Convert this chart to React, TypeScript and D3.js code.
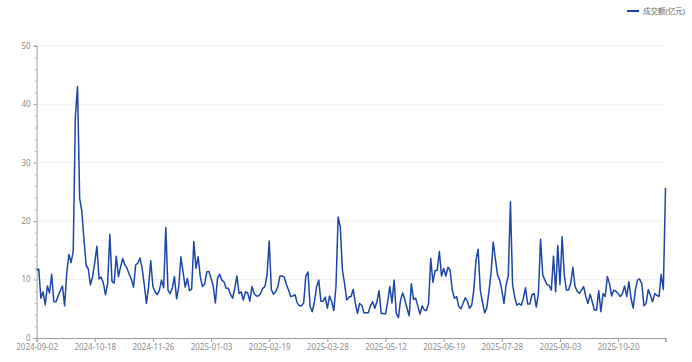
import React, { useEffect, useRef } from 'react';
import * as d3 from 'd3';

// 成交额 (亿元), one value per trading day from 2024-09-02
const turnover: number[] = [
  11.6, 11.8, 6.8, 7.9, 5.7, 8.9, 7.7, 10.9, 6.2, 6.2, 7.2, 8.1, 8.9, 5.5, 11.1, 14.3, 12.9, 14.8, 37.9, 43.0,
  23.9, 21.7, 16.8, 12.4, 11.8, 9.1, 10.5, 12.9, 15.7, 10.1, 10.4, 9.4, 7.4, 9.4, 17.7, 9.7, 9.4, 14.0, 10.5,
  12.2, 13.6, 12.5, 11.9, 10.9, 10.0, 8.7, 12.5, 12.8, 13.7, 11.9, 9.1, 5.9, 8.8, 13.2, 8.8, 7.9, 7.4, 8.2, 9.9,
  8.6, 18.9, 8.2, 7.6, 8.5, 10.5, 6.7, 8.8, 13.9, 11.3, 8.7, 10.2, 8.1, 8.4, 16.5, 11.9, 13.9, 10.5, 8.8, 9.2,
  11.3, 11.4,
  10.2, 8.9, 6.0, 10.2, 10.9, 9.9, 9.6, 8.5, 8.5, 7.5, 6.8, 8.5, 10.6, 7.6, 7.9, 6.5, 7.9, 7.7, 6.3, 8.8,
  7.6, 7.2, 7.2, 7.6, 8.5, 8.8, 10.8, 16.6, 8.3, 7.5, 7.9, 8.8, 10.6, 10.6, 10.4, 9.1, 8.2, 7.1, 7.2, 7.4,
  6.0, 5.5, 5.5, 6.0, 10.6, 11.3, 5.4, 4.5, 6.2, 8.8, 9.9, 6.3, 6.3, 7.0, 5.1, 7.2, 6.2, 4.7, 8.8, 20.7,
  19.0, 11.6, 9.3, 6.5, 7.0, 7.1, 8.3, 5.9, 4.2, 5.9, 5.6, 4.3, 4.3, 4.3, 5.5, 6.2, 5.1, 6.2, 8.1, 4.2,
  4.2, 4.1, 6.2, 8.8,
  6.0, 9.9, 4.2, 3.5, 6.5, 7.7, 6.5, 5.1, 3.8, 9.3, 6.6, 6.8, 5.5, 4.1, 5.5, 4.8, 4.7, 5.9, 13.6, 9.5,
  11.5, 11.6, 14.8, 10.6, 11.9, 10.6, 12.1, 11.6, 8.2, 6.8, 7.1, 5.4, 5.0, 5.9, 6.9, 6.3, 5.1, 5.6, 8.2, 13.3,
  15.2, 8.2, 6.2, 4.3, 5.1, 7.9, 11.1, 16.4, 13.6, 10.8, 9.9, 8.2, 5.9, 9.1, 10.6, 23.3, 9.1, 7.0, 5.6, 5.9,
  5.6, 6.8, 8.6, 5.8, 5.8, 7.4, 7.6, 5.3, 7.6, 16.9, 10.8, 9.9, 9.1, 9.0, 8.2, 14.0, 7.9, 15.8, 9.1, 17.3,
  10.8, 8.2, 8.2, 9.4,
  12.1, 8.8, 8.0, 7.6, 8.2, 8.8, 7.1, 5.9, 7.5, 6.2, 4.8, 4.8, 8.1, 4.5, 7.6, 7.1, 10.5, 9.3, 7.2, 8.2,
  8.0, 7.6, 7.1, 7.6, 8.9, 7.1, 9.6, 6.8, 5.1, 8.2, 9.9, 10.1, 9.3, 5.5, 5.9, 8.3, 7.3, 6.2, 7.6, 7.3,
  7.1, 10.9, 8.3, 25.7,
];

// date labels shown every 27 trading days
const tickLabels: string[] = [
  '2024-09-02', '2024-10-18', '2024-11-26', '2025-01-03', '2025-02-19', '2025-03-28',
  '2025-05-12', '2025-06-19', '2025-07-28', '2025-09-03', '2025-10-20',
];
const labelInterval = 27;

const yTicks: number[] = [0, 10, 20, 30, 40, 50];
const seriesName = '成交额(亿元)';

const W = 692;
const H = 362;
const FONT = "'Noto Sans', 'Noto Sans CJK SC', sans-serif";

const App: React.FC = () => {
  const ref = useRef<SVGSVGElement | null>(null);

  useEffect(() => {
    if (!ref.current) return;
    const svg = d3.select(ref.current);
    svg.selectAll('*').remove();

    const left = 36.6;
    const right = 665.5;
    const top = 45.7;
    const bottom = 338;

    const x = d3.scaleLinear().domain([0, turnover.length - 1]).range([left, right]);
    const y = d3.scaleLinear().domain([0, 50]).range([bottom, top]);

    // grid lines
    svg.append('g')
      .selectAll('line')
      .data(yTicks.filter(d => d > 0))
      .enter()
      .append('line')
      .attr('x1', left)
      .attr('x2', right)
      .attr('y1', d => y(d))
      .attr('y2', d => y(d))
      .attr('stroke', '#eef0f6')
      .attr('stroke-width', 1);

    // y axis
    const yAxis = svg.append('g')
      .attr('transform', `translate(${left},0)`)
      .call(d3.axisLeft(y).tickValues(yTicks).tickSize(3).tickPadding(3));
    yAxis.select('.domain').attr('stroke', '#9a9a9a');
    yAxis.selectAll('line').attr('stroke', '#9a9a9a');
    yAxis.selectAll('text')
      .attr('fill', '#8c8c8c')
      .attr('dy', '0.3em')
      .style('font-size', '8px')
      .style('font-family', FONT);

    // minor ticks every 2
    const minor = d3.range(0, 51, 2).filter(v => v % 10 !== 0);
    svg.append('g')
      .attr('transform', `translate(${left},0)`)
      .call(d3.axisLeft(y).tickValues(minor).tickSize(2).tickFormat(() => ''))
      .call(g => g.select('.domain').remove())
      .selectAll('line')
      .attr('stroke', '#b5b5b5');

    // x axis
    const xTickVals = tickLabels.map((_, i) => i * labelInterval).concat([turnover.length - 1]);
    const xAxis = svg.append('g')
      .attr('transform', `translate(0,${bottom})`)
      .call(
        d3.axisBottom(x)
          .tickValues(xTickVals)
          .tickSize(4)
          .tickPadding(2)
          .tickFormat((d) => tickLabels[(d as number) / labelInterval] ?? '')
      );
    xAxis.select('.domain').attr('stroke', '#9a9a9a');
    xAxis.selectAll('line').attr('stroke', '#9a9a9a');
    xAxis.selectAll('text')
      .attr('fill', '#8c8c8c')
      .style('font-size', '8px')
      .style('font-family', FONT);

    // series line
    const line = d3.line<number>()
      .x((_, i) => x(i))
      .y(d => y(d));

    svg.append('path')
      .datum(turnover)
      .attr('fill', 'none')
      .attr('stroke', '#1c46a6')
      .attr('stroke-width', 1.5)
      .attr('stroke-linejoin', 'round')
      .attr('d', line);

    // legend
    const lg = svg.append('g').attr('transform', 'translate(627,11)');
    lg.append('line')
      .attr('x1', 0)
      .attr('x2', 12)
      .attr('stroke', '#1c46a6')
      .attr('stroke-width', 2);
    lg.append('text')
      .attr('x', 16)
      .attr('dy', '0.35em')
      .attr('fill', '#666')
      .style('font-size', '7.5px')
      .style('font-family', FONT)
      .text(seriesName);
  }, []);

  return (
    <div style={{ position: 'absolute', left: 0, top: 0, background: '#fff' }}>
      <svg ref={ref} width={W} height={H} style={{ display: 'block' }}></svg>
    </div>
  );
};

export default App;
